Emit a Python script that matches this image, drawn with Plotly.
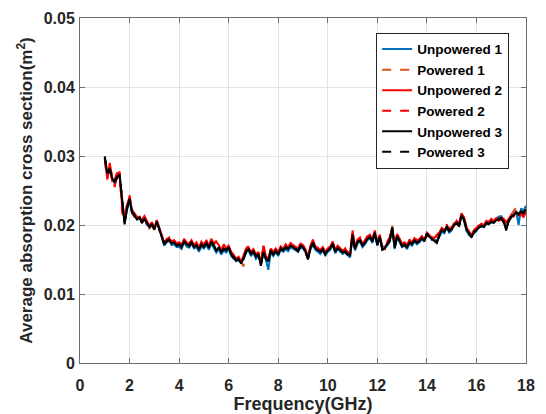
import numpy as np
import plotly.graph_objects as go

freq_ghz = [round(1.0 + 0.1 * i, 1) for i in range(171)]

unpowered_3 = [
    0.0299,0.0275,0.0281,0.0268,0.0262,0.0270,0.0273,0.0236,0.0201,0.0224,
    0.0238,0.0219,0.0214,0.0208,0.0211,0.0204,0.0209,0.0203,0.0197,0.0201,
    0.0193,0.0205,0.0194,0.0184,0.0172,0.0177,0.0179,0.0173,0.0175,0.0170,
    0.0172,0.0168,0.0177,0.0172,0.0170,0.0175,0.0168,0.0171,0.0164,0.0172,
    0.0169,0.0174,0.0167,0.0176,0.0170,0.0163,0.0168,0.0160,0.0166,0.0163,
    0.0168,0.0158,0.0154,0.0148,0.0151,0.0144,0.0152,0.0162,0.0165,0.0158,
    0.0162,0.0154,0.0158,0.0141,0.0161,0.0152,0.0148,0.0163,0.0158,0.0163,
    0.0157,0.0166,0.0163,0.0168,0.0165,0.0170,0.0168,0.0165,0.0163,0.0170,
    0.0168,0.0162,0.0150,0.0166,0.0175,0.0166,0.0163,0.0161,0.0165,0.0158,
    0.0163,0.0166,0.0173,0.0161,0.0167,0.0164,0.0160,0.0162,0.0158,0.0156,
    0.0186,0.0165,0.0175,0.0178,0.0170,0.0174,0.0180,0.0183,0.0176,0.0189,
    0.0172,0.0183,0.0164,0.0166,0.0172,0.0178,0.0197,0.0167,0.0184,0.0177,
    0.0170,0.0172,0.0168,0.0175,0.0172,0.0178,0.0174,0.0177,0.0181,0.0176,
    0.0188,0.0183,0.0180,0.0176,0.0174,0.0185,0.0193,0.0190,0.0198,0.0192,
    0.0194,0.0200,0.0203,0.0198,0.0214,0.0208,0.0193,0.0188,0.0182,0.0190,
    0.0193,0.0196,0.0199,0.0197,0.0203,0.0201,0.0205,0.0203,0.0207,0.0208,
    0.0210,0.0205,0.0192,0.0206,0.0212,0.0214,0.0218,0.0216,0.0220,0.0218,
    0.0223,
]

unpowered_1 = [
    0.0297,0.0272,0.0279,0.0266,0.0260,0.0268,0.0271,0.0233,0.0205,0.0222,
    0.0236,0.0217,0.0212,0.0210,0.0209,0.0206,0.0211,0.0200,0.0198,0.0203,
    0.0195,0.0203,0.0196,0.0182,0.0170,0.0175,0.0177,0.0171,0.0172,0.0168,
    0.0168,0.0165,0.0175,0.0169,0.0167,0.0173,0.0166,0.0168,0.0161,0.0169,
    0.0166,0.0171,0.0164,0.0173,0.0166,0.0160,0.0165,0.0157,0.0163,0.0160,
    0.0165,0.0155,0.0151,0.0150,0.0148,0.0146,0.0150,0.0160,0.0163,0.0155,
    0.0160,0.0151,0.0155,0.0145,0.0159,0.0150,0.0135,0.0161,0.0155,0.0161,
    0.0155,0.0164,0.0161,0.0165,0.0162,0.0168,0.0166,0.0163,0.0161,0.0167,
    0.0166,0.0160,0.0153,0.0164,0.0172,0.0164,0.0161,0.0158,0.0163,0.0156,
    0.0161,0.0164,0.0171,0.0159,0.0165,0.0162,0.0158,0.0160,0.0156,0.0153,
    0.0183,0.0163,0.0173,0.0176,0.0168,0.0172,0.0178,0.0181,0.0174,0.0186,
    0.0170,0.0181,0.0168,0.0169,0.0170,0.0176,0.0194,0.0165,0.0182,0.0175,
    0.0168,0.0170,0.0165,0.0173,0.0170,0.0176,0.0172,0.0175,0.0179,0.0179,
    0.0185,0.0186,0.0178,0.0179,0.0177,0.0183,0.0190,0.0188,0.0196,0.0189,
    0.0192,0.0202,0.0205,0.0200,0.0216,0.0206,0.0191,0.0185,0.0186,0.0188,
    0.0191,0.0199,0.0197,0.0200,0.0201,0.0204,0.0203,0.0206,0.0210,0.0212,
    0.0213,0.0207,0.0203,0.0208,0.0210,0.0216,0.0221,0.0200,0.0224,0.0221,
    0.0228,
]

powered_1 = [
    0.0300,0.0270,0.0284,0.0265,0.0258,0.0272,0.0274,0.0230,0.0207,0.0226,
    0.0240,0.0221,0.0210,0.0205,0.0213,0.0202,0.0207,0.0205,0.0195,0.0199,
    0.0192,0.0207,0.0192,0.0186,0.0174,0.0179,0.0176,0.0175,0.0177,0.0171,
    0.0173,0.0170,0.0178,0.0174,0.0172,0.0176,0.0170,0.0173,0.0166,0.0174,
    0.0171,0.0176,0.0169,0.0178,0.0172,0.0166,0.0170,0.0162,0.0168,0.0165,
    0.0166,0.0160,0.0156,0.0150,0.0153,0.0146,0.0140,0.0164,0.0167,0.0160,
    0.0164,0.0156,0.0160,0.0143,0.0163,0.0154,0.0150,0.0165,0.0160,0.0165,
    0.0159,0.0168,0.0165,0.0170,0.0167,0.0172,0.0170,0.0167,0.0165,0.0172,
    0.0170,0.0164,0.0152,0.0168,0.0177,0.0168,0.0165,0.0163,0.0167,0.0160,
    0.0165,0.0168,0.0175,0.0163,0.0169,0.0166,0.0162,0.0164,0.0160,0.0158,
    0.0188,0.0167,0.0177,0.0180,0.0172,0.0176,0.0182,0.0185,0.0178,0.0191,
    0.0174,0.0185,0.0166,0.0168,0.0174,0.0180,0.0199,0.0169,0.0186,0.0179,
    0.0172,0.0174,0.0170,0.0177,0.0174,0.0180,0.0176,0.0179,0.0183,0.0178,
    0.0190,0.0185,0.0182,0.0178,0.0182,0.0187,0.0195,0.0192,0.0200,0.0194,
    0.0196,0.0204,0.0201,0.0201,0.0212,0.0210,0.0195,0.0190,0.0184,0.0192,
    0.0195,0.0198,0.0201,0.0199,0.0205,0.0203,0.0207,0.0205,0.0209,0.0210,
    0.0212,0.0203,0.0200,0.0209,0.0215,0.0221,0.0226,0.0219,0.0217,0.0215,
    0.0225,
]

unpowered_2 = [
    0.0296,0.0268,0.0290,0.0264,0.0266,0.0276,0.0270,0.0228,0.0210,0.0229,
    0.0241,0.0222,0.0217,0.0212,0.0209,0.0208,0.0213,0.0207,0.0199,0.0204,
    0.0196,0.0207,0.0197,0.0186,0.0174,0.0180,0.0181,0.0176,0.0178,0.0173,
    0.0175,0.0171,0.0180,0.0175,0.0173,0.0178,0.0171,0.0175,0.0167,0.0176,
    0.0172,0.0177,0.0170,0.0180,0.0173,0.0176,0.0171,0.0163,0.0172,0.0166,
    0.0170,0.0161,0.0157,0.0151,0.0154,0.0147,0.0155,0.0165,0.0168,0.0161,
    0.0165,0.0157,0.0161,0.0144,0.0170,0.0155,0.0151,0.0166,0.0161,0.0166,
    0.0160,0.0169,0.0166,0.0171,0.0168,0.0174,0.0171,0.0168,0.0166,0.0173,
    0.0171,0.0165,0.0154,0.0169,0.0179,0.0169,0.0166,0.0164,0.0168,0.0161,
    0.0166,0.0169,0.0176,0.0164,0.0170,0.0167,0.0163,0.0165,0.0161,0.0159,
    0.0192,0.0168,0.0178,0.0181,0.0173,0.0177,0.0183,0.0186,0.0179,0.0190,
    0.0175,0.0186,0.0167,0.0165,0.0175,0.0181,0.0196,0.0170,0.0187,0.0180,
    0.0173,0.0175,0.0171,0.0178,0.0175,0.0181,0.0177,0.0180,0.0184,0.0179,
    0.0186,0.0184,0.0183,0.0181,0.0184,0.0188,0.0196,0.0193,0.0194,0.0195,
    0.0197,0.0199,0.0206,0.0202,0.0217,0.0211,0.0196,0.0191,0.0185,0.0193,
    0.0196,0.0199,0.0202,0.0200,0.0206,0.0204,0.0208,0.0206,0.0210,0.0206,
    0.0208,0.0209,0.0204,0.0210,0.0214,0.0212,0.0220,0.0214,0.0216,0.0211,
    0.0220,
]

powered_2 = [
    0.0294,0.0266,0.0287,0.0270,0.0255,0.0274,0.0277,0.0218,0.0209,0.0231,
    0.0243,0.0220,0.0215,0.0210,0.0214,0.0206,0.0210,0.0201,0.0196,0.0202,
    0.0194,0.0206,0.0195,0.0183,0.0175,0.0178,0.0182,0.0174,0.0176,0.0172,
    0.0174,0.0172,0.0179,0.0173,0.0171,0.0177,0.0172,0.0174,0.0166,0.0175,
    0.0170,0.0178,0.0168,0.0177,0.0171,0.0179,0.0169,0.0162,0.0170,0.0164,
    0.0169,0.0160,0.0155,0.0149,0.0152,0.0145,0.0153,0.0166,0.0170,0.0162,
    0.0163,0.0158,0.0159,0.0146,0.0172,0.0153,0.0149,0.0164,0.0160,0.0167,
    0.0158,0.0167,0.0167,0.0172,0.0166,0.0173,0.0172,0.0169,0.0164,0.0174,
    0.0169,0.0163,0.0151,0.0170,0.0178,0.0167,0.0167,0.0162,0.0169,0.0159,
    0.0164,0.0170,0.0174,0.0165,0.0168,0.0168,0.0161,0.0166,0.0159,0.0157,
    0.0190,0.0166,0.0179,0.0182,0.0171,0.0178,0.0184,0.0184,0.0180,0.0192,
    0.0173,0.0187,0.0165,0.0167,0.0176,0.0182,0.0195,0.0168,0.0188,0.0178,
    0.0171,0.0176,0.0169,0.0179,0.0173,0.0182,0.0178,0.0178,0.0185,0.0177,
    0.0189,0.0186,0.0181,0.0180,0.0186,0.0189,0.0194,0.0194,0.0201,0.0193,
    0.0195,0.0203,0.0204,0.0203,0.0215,0.0209,0.0197,0.0189,0.0187,0.0191,
    0.0194,0.0201,0.0200,0.0202,0.0204,0.0205,0.0209,0.0204,0.0211,0.0207,
    0.0211,0.0206,0.0202,0.0207,0.0213,0.0215,0.0217,0.0213,0.0215,0.0213,
    0.0219,
]

powered_3 = [
    0.0298,0.0274,0.0282,0.0267,0.0263,0.0269,0.0272,0.0238,0.0203,0.0225,
    0.0237,0.0218,0.0215,0.0207,0.0212,0.0203,0.0208,0.0204,0.0198,0.0200,
    0.0194,0.0204,0.0193,0.0185,0.0173,0.0176,0.0178,0.0174,0.0174,0.0171,
    0.0171,0.0169,0.0176,0.0173,0.0169,0.0174,0.0169,0.0170,0.0165,0.0171,
    0.0168,0.0173,0.0168,0.0175,0.0171,0.0164,0.0167,0.0161,0.0165,0.0164,
    0.0167,0.0157,0.0153,0.0149,0.0150,0.0145,0.0151,0.0161,0.0164,0.0159,
    0.0161,0.0155,0.0157,0.0142,0.0160,0.0151,0.0147,0.0162,0.0157,0.0162,
    0.0156,0.0165,0.0164,0.0167,0.0166,0.0169,0.0167,0.0166,0.0162,0.0169,
    0.0167,0.0161,0.0151,0.0165,0.0174,0.0165,0.0164,0.0160,0.0164,0.0157,
    0.0162,0.0165,0.0172,0.0162,0.0166,0.0163,0.0161,0.0161,0.0157,0.0155,
    0.0185,0.0164,0.0176,0.0177,0.0171,0.0173,0.0179,0.0182,0.0177,0.0188,
    0.0171,0.0182,0.0165,0.0167,0.0171,0.0177,0.0196,0.0168,0.0183,0.0176,
    0.0169,0.0171,0.0167,0.0174,0.0173,0.0177,0.0175,0.0176,0.0180,0.0177,
    0.0187,0.0182,0.0181,0.0177,0.0175,0.0184,0.0192,0.0191,0.0197,0.0191,
    0.0193,0.0201,0.0202,0.0199,0.0213,0.0207,0.0194,0.0187,0.0183,0.0189,
    0.0192,0.0197,0.0198,0.0198,0.0202,0.0202,0.0204,0.0204,0.0206,0.0209,
    0.0209,0.0204,0.0194,0.0205,0.0211,0.0213,0.0217,0.0215,0.0219,0.0217,
    0.0222,
]

series_names = ["Unpowered 1", "Powered 1", "Unpowered 2", "Powered 2", "Unpowered 3", "Powered 3"]
x_ticks = [0, 2, 4, 6, 8, 10, 12, 14, 16, 18]
y_ticks = [0, 0.01, 0.02, 0.03, 0.04, 0.05]
y_tick_labels = ["0", "0.01", "0.02", "0.03", "0.04", "0.05"]

series_values = [unpowered_1, powered_1, unpowered_2, powered_2, unpowered_3, powered_3]
styles = [
    ("#0072BD", "solid"),
    ("#D95319", "dash"),
    ("#FF0000", "solid"),
    ("#FF0000", "dash"),
    ("#000000", "solid"),
    ("#000000", "dash"),
]

fig = go.Figure()
for name, vals, (color, dash) in zip(series_names, series_values, styles):
    n = min(len(vals), len(freq_ghz))
    fig.add_trace(go.Scatter(
        x=freq_ghz[:n], y=vals[:n], mode="lines", name=name,
        line=dict(color=color, dash=dash, width=2),
    ))

font_family = "Arial, Liberation Sans, sans-serif"
axis_common = dict(
    showline=True, linecolor="#6e6e6e", linewidth=1, mirror="ticks",
    ticks="inside", ticklen=5, tickcolor="#6e6e6e",
    showgrid=True, gridcolor="#e3e3e3", gridwidth=1,
    zeroline=False, automargin=False,
    tickfont=dict(family=font_family, size=16, color="#262626", weight="bold"),
)

fig.update_layout(
    width=546, height=414,
    margin=dict(l=80, r=20, t=18, b=51),
    paper_bgcolor="white", plot_bgcolor="white",
    font=dict(family=font_family, color="#262626"),
    xaxis=dict(
        range=[0, 18], tickvals=x_ticks, ticktext=[str(t) for t in x_ticks],
        ticklabelstandoff=8,
        title=dict(text="Frequency(GHz)", standoff=8,
                   font=dict(family=font_family, size=18, color="#262626", weight="bold")),
        **axis_common,
    ),
    yaxis=dict(
        range=[0, 0.05], tickvals=y_ticks, ticktext=y_tick_labels,
        ticklabelstandoff=1,
        title=dict(text="Average absorption cross section(m<sup>2</sup>)", standoff=6,
                   font=dict(family=font_family, size=17, color="#262626", weight="bold")),
        **axis_common,
    ),
    legend=dict(
        x=0.664, y=0.957, xanchor="left", yanchor="top",
        bgcolor="white", bordercolor="#262626", borderwidth=1,
        font=dict(family=font_family, size=13.5, color="#000000", weight="bold"),
        tracegroupgap=0, itemwidth=30,
    ),
    showlegend=True,
)

fig.write_html("out.html", config={"displayModeBar": False},
               post_script="document.body.style.margin='0px';")
